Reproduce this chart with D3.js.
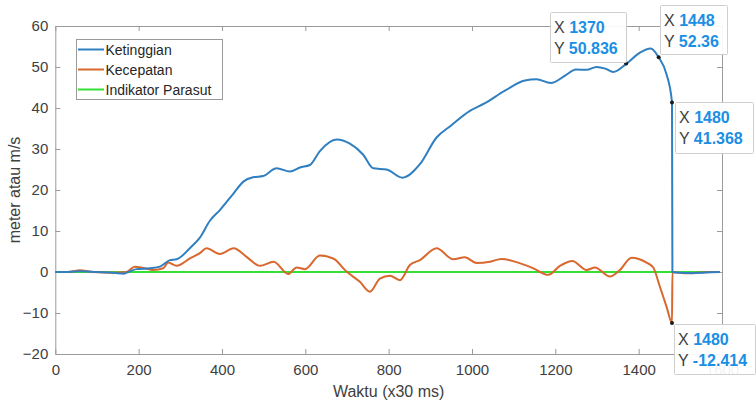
<!DOCTYPE html>
<html><head><meta charset="utf-8">
<script src="https://cdn.jsdelivr.net/npm/d3@7"></script>
<style>
body{margin:0;background:#fff;}
svg{display:block;font-family:"Liberation Sans",Arial,Helvetica,sans-serif;}
</style></head>
<body><svg id="c" width="756" height="404"></svg>
<script>
const xTicks = [0,200,400,600,800,1000,1200,1400,1600];
const yTicks = [-20,-10,0,10,20,30,40,50,60];
const seriesNames = ["Ketinggian","Kecepatan","Indikator Parasut"];

const ketinggianX = [0,30,60,100,140,165,175,195,228,251,275,291,323,347,371,395,428,452,475,499,531,563,587,611,635,675,707,739,763,795,833,875,915,947,995,1030,1080,1127,1155,1189,1225,1249,1275,1299,1320,1339,1371,1403,1429,1448,1467,1480,1481,1500,1530,1560,1595];
const ketinggianY = [0,0,0.2,0,-0.2,-0.4,0,0.7,0.9,1.3,2.9,3.1,5.8,8.4,12.5,15.1,19.2,22.1,23.1,23.4,25.3,24.5,25.5,26.1,29.5,32.3,31.3,28.6,25.3,25.0,23.0,26.3,32.8,35.5,39.3,41.1,44.3,46.7,47.0,46.1,48.0,49.4,49.3,50.0,49.6,48.8,50.836,53.5,54.5,52.36,48.2,41.368,0,-0.2,-0.3,-0.1,0];

const kecepatanX = [0,30,59,90,140,171,191,211,235,259,271,291,323,347,363,395,428,459,491,524,559,579,599,635,667,699,731,755,779,803,827,851,875,915,955,983,1011,1043,1071,1107,1147,1183,1211,1241,1275,1295,1331,1355,1383,1419,1435,1451,1467,1480,1481,1510,1540,1570,1595];
const kecepatanY = [0,0,0.4,0,-0.2,0,1.3,1.0,0.5,0.9,2.3,1.5,3.3,4.6,5.8,4.4,5.8,3.7,1.5,2.5,-0.5,1.1,0.7,4.0,3.3,0.1,-2.4,-4.8,-1.6,-0.9,-2.0,1.7,2.9,5.8,3.1,3.6,2.2,2.5,3.2,2.4,0.9,-0.7,1.5,2.7,0.5,1.1,-1.1,0.5,3.5,2.3,1.1,-3.6,-8.5,-12.414,0,-0.3,-0.2,0,0];

const parasutX = [0,1595];
const parasutY = [0,0];

const tipX = [1370,1448,1480,1480];
const tipY = [50.836,52.36,41.368,-12.414];
const tipLabelX = ["1370","1448","1480","1480"];
const tipLabelY = ["50.836","52.36","41.368","-12.414"];

const colors = ["#2f7fc1","#d9682f","#33e033"];
const svg = d3.select("#c");
const L=55.3, R=722, T=26, B=354;
const x = d3.scaleLinear().domain([0,1600]).range([L,R]);
const y = d3.scaleLinear().domain([-20,60]).range([B,T]);
const axisCol="#9a9a9a", textCol="#404040";
const fmt = d3.format("d");

// axes
const gx = svg.append("g").attr("transform",`translate(0,${B})`)
  .call(d3.axisBottom(x).tickValues(xTicks).tickFormat(fmt).tickSizeInner(-5).tickSizeOuter(0).tickPadding(10));
const gy = svg.append("g").attr("transform",`translate(${L},0)`)
  .call(d3.axisLeft(y).tickValues(yTicks).tickFormat(fmt).tickSizeInner(-5).tickSizeOuter(0).tickPadding(7));
const gt = svg.append("g").attr("transform",`translate(0,${T})`)
  .call(d3.axisTop(x).tickValues(xTicks).tickSizeInner(-5).tickSizeOuter(0).tickFormat(""));
const gr = svg.append("g").attr("transform",`translate(${R},0)`)
  .call(d3.axisRight(y).tickValues(yTicks).tickSizeInner(-5).tickSizeOuter(0).tickFormat(""));
[gx,gy,gt,gr].forEach(g=>{
  g.selectAll("path,line").attr("stroke",axisCol).attr("stroke-width",1);
  g.selectAll("text").attr("fill",textCol).style("font-size","15px").style("font-family","'Liberation Sans',Arial,sans-serif");
});

svg.append("text").attr("x",(L+R)/2).attr("y",397).attr("text-anchor","middle")
  .attr("fill",textCol).style("font-size","16px").text("Waktu (x30 ms)");
svg.append("text").attr("transform",`translate(20,${(T+B)/2}) rotate(-90)`).attr("text-anchor","middle")
  .attr("fill",textCol).style("font-size","16px").text("meter atau m/s");

const line = d3.line().x(d=>x(d[0])).y(d=>y(d[1])).curve(d3.curveMonotoneX);
const series = [
  d3.zip(parasutX,parasutY),
  d3.zip(kecepatanX,kecepatanY),
  d3.zip(ketinggianX,ketinggianY)
];
const seriesColors=[colors[2],colors[1],colors[0]];
series.forEach((s,i)=>{
  svg.append("path").datum(s).attr("d",line).attr("fill","none")
    .attr("stroke",seriesColors[i]).attr("stroke-width",2).attr("stroke-linejoin","round");
});

// legend
const lg = svg.append("g");
lg.append("rect").attr("x",76.5).attr("y",39.5).attr("width",146).attr("height",60)
  .attr("fill","#fff").attr("stroke","#9a9a9a");
seriesNames.forEach((n,i)=>{
  const yy = 49.5+i*20;
  lg.append("line").attr("x1",78).attr("x2",104).attr("y1",yy).attr("y2",yy)
    .attr("stroke",colors[i]).attr("stroke-width",2);
  lg.append("text").attr("x",105.5).attr("y",yy+5).attr("fill","#262626")
    .style("font-size","14px").text(n);
});

// data tips
const boxes = [
  {bx:550,by:12,bw:76,bh:50},
  {bx:660,by:5,bw:67,bh:49},
  {bx:675,by:102,bw:78,bh:51},
  {bx:674,by:324,bw:81,bh:50}
];
tipX.forEach((tx,i)=>{
  svg.append("circle").attr("cx",x(tx)).attr("cy",y(tipY[i])).attr("r",2).attr("fill","#1a1a1a");
  const b=boxes[i];
  const g=svg.append("g");
  g.append("rect").attr("x",b.bx+0.5).attr("y",b.by+0.5).attr("width",b.bw).attr("height",b.bh)
    .attr("fill","#fff").attr("fill-opacity",0.93).attr("stroke","#cfcfcf").attr("rx",1);
  const t1=g.append("text").attr("x",b.bx+4).attr("y",b.by+21).style("font-size","16px");
  t1.append("tspan").attr("fill","#404040").text("X ");
  t1.append("tspan").attr("fill","#1b8fe4").attr("font-weight","bold").text(tipLabelX[i]);
  const t2=g.append("text").attr("x",b.bx+4).attr("y",b.by+42).style("font-size","16px");
  t2.append("tspan").attr("fill","#404040").text("Y ");
  t2.append("tspan").attr("fill","#1b8fe4").attr("font-weight","bold").text(tipLabelY[i]);
});
</script></body></html>
